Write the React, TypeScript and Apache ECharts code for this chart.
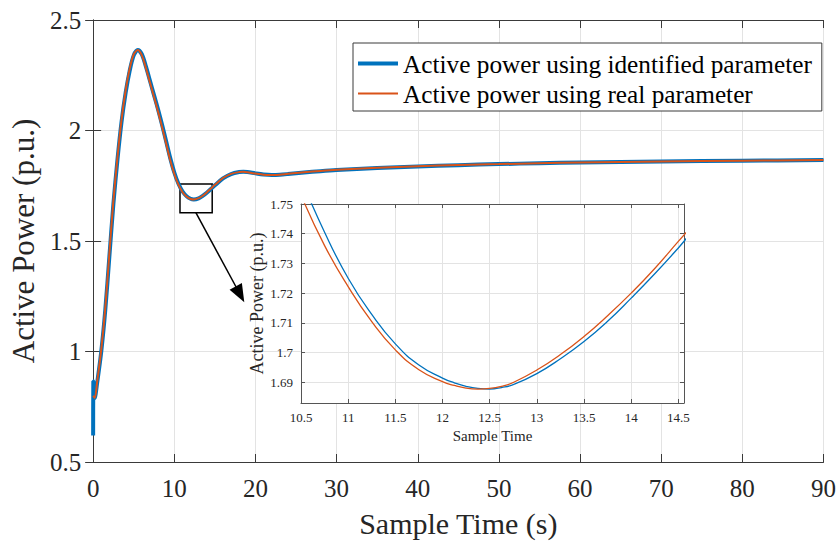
import React, { useEffect, useRef } from "react";
import * as echarts from "echarts";

// Main chart data
const tMain = [0, 0.02, 0.2, 0.5, 1, 1.5, 2, 2.5, 3, 3.5, 4, 4.5, 5, 5.5, 6, 6.5, 7, 7.5, 8, 8.5, 9, 9.5, 10, 10.5, 11, 11.5, 12, 12.4, 13, 13.5, 14, 14.5, 15, 16, 17, 18, 18.5, 19, 20, 21, 22, 23, 24, 26, 28, 30, 35, 40, 45, 50, 55, 60, 70, 80, 90];
const pIdentified = [0.62, 0.865, 0.79, 0.86, 1.0, 1.19, 1.43, 1.67, 1.87, 2.04, 2.17, 2.27, 2.34, 2.364, 2.345, 2.29, 2.225, 2.16, 2.095, 2.025, 1.95, 1.875, 1.81, 1.76, 1.725, 1.703, 1.691, 1.688, 1.693, 1.704, 1.718, 1.735, 1.752, 1.783, 1.803, 1.812, 1.813, 1.812, 1.806, 1.801, 1.799, 1.800, 1.803, 1.810, 1.816, 1.821, 1.830, 1.837, 1.843, 1.848, 1.852, 1.855, 1.86, 1.863, 1.866];
const pReal = [0.80, 0.80, 0.79, 0.865, 1.01, 1.2, 1.445, 1.685, 1.88, 2.05, 2.18, 2.28, 2.345, 2.364, 2.34, 2.283, 2.217, 2.152, 2.085, 2.015, 1.94, 1.865, 1.803, 1.755, 1.722, 1.701, 1.690, 1.688, 1.694, 1.705, 1.720, 1.737, 1.754, 1.785, 1.804, 1.812, 1.813, 1.811, 1.805, 1.800, 1.799, 1.800, 1.804, 1.811, 1.817, 1.822, 1.831, 1.838, 1.844, 1.848, 1.852, 1.855, 1.86, 1.863, 1.866];

// Inset (zoomed) data
const tZoom = [10.5, 10.75, 11, 11.25, 11.5, 11.75, 12, 12.125, 12.25, 12.375, 12.5, 12.625, 12.75, 13, 13.25, 13.5, 13.75, 14, 14.25, 14.5, 14.6];
const zIdentified = [1.7585, 1.7405, 1.7250, 1.7128, 1.7029, 1.6958, 1.6914, 1.6898, 1.6886, 1.6879, 1.6877, 1.6882, 1.6892, 1.6929, 1.6979, 1.7037, 1.7105, 1.7183, 1.7265, 1.7352, 1.7390];
const zReal = [1.7530, 1.7360, 1.7222, 1.7104, 1.7009, 1.6942, 1.6902, 1.6889, 1.6880, 1.6877, 1.6879, 1.6886, 1.6899, 1.6941, 1.6993, 1.7054, 1.7124, 1.7200, 1.7283, 1.7374, 1.7410];

// Tick values
const zoomXTicks = [10.5, 11, 11.5, 12, 12.5, 13, 13.5, 14, 14.5];
const zoomYTicks = [1.69, 1.7, 1.71, 1.72, 1.73, 1.74, 1.75];

// Zoom box and arrow annotation (data coordinates of main axes)
const boxX = [10.7, 14.67];
const boxY = [1.628, 1.758];
const arrowFrom = [12.66, 1.628];
const arrowTo = [18.1, 1.259];

const nameIdentified = "Active power using identified parameter";
const nameReal = "Active power using real parameter";

const BLUE = "#0072BD";
const RED = "#D95319";
const FONT = "'Liberation Serif', 'Times New Roman', serif";
const TXT = "#262626";
const AX = "#3a3a3a";

function pairs(t: number[], v: number[]) {
  return t.map((x, i) => [x, v[i]]);
}

export default function App() {
  const ref = useRef<HTMLDivElement>(null);
  useEffect(() => {
    if (!ref.current) return;
    const chart = echarts.init(ref.current, undefined, { renderer: "svg" });
    const axLine = { show: true, lineStyle: { color: AX, width: 1 } };
    const split = { show: true, lineStyle: { color: "#e3e3e3", width: 1 } };
    const mainTick = { show: true, inside: true, length: 8, lineStyle: { color: AX } };
    const insetTick = (vals: number[]) => ({ show: true, inside: true, length: 4, lineStyle: { color: "#555" }, customValues: vals });
    const insetLine = { show: true, lineStyle: { color: "#555", width: 1 } };

    const option: any = {
      animation: false,
      backgroundColor: "#fff",
      grid: [
        { left: 92, top: 20, width: 732, height: 442, containLabel: false },
        { left: 301, top: 204, width: 383, height: 199, show: true, backgroundColor: "#fff", borderWidth: 0, z: 1 },
      ],
      legend: {
        orient: "vertical",
        left: 353,
        top: 43,
        padding: [8, 10, 5, 5],
        itemGap: 5,
        itemWidth: 40,
        itemHeight: 14,
        backgroundColor: "#fff",
        borderColor: AX,
        borderWidth: 1,
        borderRadius: 0,
        z: 10,
        textStyle: { fontFamily: FONT, fontSize: 25.3, color: "#000" },
        data: [
          { name: nameIdentified, icon: "path://M0,0L40,0L40,4L0,4Z" },
          { name: nameReal, icon: "path://M0,0L40,0L40,2L0,2Z" },
        ],
      },
      xAxis: [
        {
          type: "value", gridIndex: 0, min: 0, max: 90, interval: 10, position: "bottom",
          axisLine: axLine, axisTick: mainTick, splitLine: split,
          axisLabel: { fontFamily: FONT, fontSize: 25, color: TXT, margin: 14 },
          name: "Sample Time (s)", nameLocation: "middle", nameGap: 46,
          nameTextStyle: { fontFamily: FONT, fontSize: 30, color: TXT },
        },
        {
          type: "value", gridIndex: 0, min: 0, max: 90, interval: 10, position: "top",
          axisLine: axLine, axisTick: mainTick, splitLine: { show: false }, axisLabel: { show: false },
        },
        {
          type: "value", gridIndex: 1, min: 10.5, max: 14.56, position: "bottom", z: 3,
          axisLine: insetLine, axisTick: insetTick(zoomXTicks), splitLine: split,
          axisLabel: { fontFamily: FONT, fontSize: 13, color: TXT, margin: 8, customValues: zoomXTicks },
          name: "Sample Time", nameLocation: "middle", nameGap: 25,
          nameTextStyle: { fontFamily: FONT, fontSize: 15, color: TXT },
        },
        {
          type: "value", gridIndex: 1, min: 10.5, max: 14.56, position: "top", z: 3,
          axisLine: insetLine, axisTick: insetTick(zoomXTicks), splitLine: { show: false }, axisLabel: { show: false },
        },
      ],
      yAxis: [
        {
          type: "value", gridIndex: 0, min: 0.5, max: 2.5, interval: 0.5, position: "left",
          axisLine: axLine, axisTick: mainTick, splitLine: split,
          axisLabel: { fontFamily: FONT, fontSize: 25, color: TXT, margin: 12 },
          name: "Active Power (p.u.)", nameLocation: "middle", nameGap: 45,
          nameTextStyle: { fontFamily: FONT, fontSize: 31, color: TXT },
        },
        {
          type: "value", gridIndex: 0, min: 0.5, max: 2.5, interval: 0.5, position: "right",
          axisLine: axLine, axisTick: mainTick, splitLine: { show: false }, axisLabel: { show: false },
        },
        {
          type: "value", gridIndex: 1, min: 1.683, max: 1.75, position: "left", z: 3,
          axisLine: insetLine, axisTick: insetTick(zoomYTicks), splitLine: split,
          axisLabel: {
            fontFamily: FONT, fontSize: 13, color: TXT, margin: 8, customValues: zoomYTicks,
            formatter: (v: number) => String(parseFloat(v.toFixed(3))),
          },
          name: "Active Power (p.u.)", nameLocation: "middle", nameGap: 26,
          nameTextStyle: { fontFamily: FONT, fontSize: 18, color: TXT },
        },
        {
          type: "value", gridIndex: 1, min: 1.683, max: 1.75, position: "right", z: 3,
          axisLine: insetLine, axisTick: insetTick(zoomYTicks), splitLine: { show: false }, axisLabel: { show: false },
        },
      ],
      series: [
        {
          name: nameIdentified, type: "line", xAxisIndex: 0, yAxisIndex: 0,
          data: pairs(tMain, pIdentified), showSymbol: false, symbol: "none", symbolKeepAspect: true,
          smooth: 0.3,
          lineStyle: { color: BLUE, width: 4 }, itemStyle: { color: BLUE }, z: 2,
        },
        {
          name: nameReal, type: "line", xAxisIndex: 0, yAxisIndex: 0,
          data: pairs(tMain, pReal), showSymbol: false, symbol: "none", symbolKeepAspect: true,
          smooth: 0.3,
          lineStyle: { color: RED, width: 2 }, itemStyle: { color: RED }, z: 2,
          markArea: {
            silent: true,
            itemStyle: { color: "rgba(0,0,0,0)", borderColor: "#000", borderWidth: 1.5 },
            data: [[{ coord: [boxX[0], boxY[0]] }, { coord: [boxX[1], boxY[1]] }]],
          },
          markLine: {
            silent: true,
            symbol: ["none", "triangle"],
            symbolSize: [14, 18],
            label: { show: false },
            lineStyle: { color: "#000", width: 1.5, type: "solid" },
            data: [[{ coord: arrowFrom }, { coord: arrowTo }]],
          },
        },
        {
          name: nameIdentified + " (zoom)", type: "line", xAxisIndex: 2, yAxisIndex: 2,
          data: pairs(tZoom, zIdentified), showSymbol: false, symbol: "none", smooth: 0.5,
          lineStyle: { color: BLUE, width: 1.3 }, z: 4,
        },
        {
          name: nameReal + " (zoom)", type: "line", xAxisIndex: 2, yAxisIndex: 2,
          data: pairs(tZoom, zReal), showSymbol: false, symbol: "none", smooth: 0.5,
          lineStyle: { color: RED, width: 1.3 }, z: 4,
        },
      ],
    };
    chart.setOption(option);
    return () => chart.dispose();
  }, []);
  return <div ref={ref} style={{ width: 839, height: 545, position: "absolute", left: 0, top: 0 }} />;
}
